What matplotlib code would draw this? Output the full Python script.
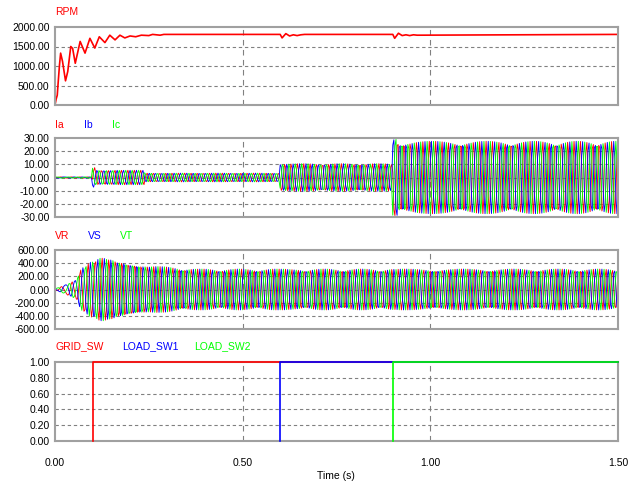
import numpy as np
import matplotlib
matplotlib.use('Agg')
import matplotlib.pyplot as plt
from matplotlib import font_manager

names = {f.name for f in font_manager.fontManager.ttflist}
font = 'Liberation Sans Narrow' if 'Liberation Sans Narrow' in names else 'Liberation Sans'
plt.rcParams['font.family'] = [font, 'DejaVu Sans']

# --- data ---
# rotor speed (key points of the trace)
rpm_t = [0.0, 0.003, 0.006, 0.009, 0.012, 0.015, 0.020, 0.028, 0.034, 0.042, 0.047, 0.054,
         0.067, 0.080, 0.093, 0.106, 0.118, 0.133, 0.146, 0.160, 0.173, 0.186, 0.20, 0.215,
         0.23, 0.25, 0.26, 0.28, 0.29, 0.32, 0.6, 0.605, 0.615, 0.625, 0.635, 0.645, 0.655,
         0.665, 0.9, 0.905, 0.915, 0.925, 0.935, 0.945, 0.955, 0.965, 1.5]
rpm_v = [0, 150, 250, 650, 1030, 1330, 1120, 620, 860, 1500, 1450, 1070,
         1630, 1330, 1710, 1460, 1750, 1600, 1790, 1670, 1790, 1720, 1770, 1750,
         1790, 1780, 1810, 1790, 1810, 1810, 1810, 1720, 1830, 1770, 1800, 1780, 1800,
         1810, 1810, 1710, 1840, 1780, 1800, 1780, 1800, 1790, 1810]

# phase currents: amplitude per segment
cur_seg_t = [0.0, 0.1, 0.106, 0.24, 0.6, 0.9, 0.912]
cur_seg_amp = [0.4, 7.5, 5.5, 3.3, 10.5, 31.0, 27.5]
cur_shift = 0.033      # where the moire diamonds sit (s, mod 0.1)

# phase voltages: amplitude key points
volt_t = [0.0, 0.02, 0.04, 0.058, 0.067, 0.093, 0.12, 0.15, 0.25, 0.38, 1.5]
volt_amp = [10, 50, 100, 150, 300, 410, 480, 460, 360, 310, 310]
volt_shift = 0.088

freq = 60.0            # Hz at final speed
sample_dt = 1 / 350.0  # print step of the simulation

# switch signals
sw_names = ['GRID_SW', 'LOAD_SW1', 'LOAD_SW2']
sw_on = [0.1, 0.6, 0.9]

RED, BLUE, GREEN = '#ff0000', '#0000ff', '#00ff00'
colors = [RED, BLUE, GREEN]
GRID = '#808080'

fig = plt.figure(figsize=(6.4, 4.84), dpi=100)
W, H = 640, 484


def make_ax(top, bottom):
    return fig.add_axes([55 / W, 1 - bottom / H, 563 / W, (bottom - top) / H])


def style(ax, ylim, yticks, fmt, hgrid, show_x=False):
    ax.set_xlim(0, 1.5)
    ax.set_ylim(*ylim)
    ax.set_yticks(yticks)
    ax.set_yticklabels([fmt.format(v) for v in yticks])
    ax.set_xticks([0, 0.5, 1.0, 1.5])
    if show_x:
        ax.set_xticklabels(['0.00', '0.50', '1.00', '1.50'])
    else:
        ax.set_xticklabels([])
    ax.tick_params(length=0, labelsize=7.5, pad=4)
    ax.tick_params(axis='x', pad=12)
    for s in ax.spines.values():
        s.set_color('#a0a0a0')
        s.set_linewidth(1.5)
    for v in hgrid:
        ax.axhline(v, color=GRID, lw=0.8, ls=(0, (3, 2.5)), zorder=0)
    for v in [0.5, 1.0]:
        ax.axvline(v, color=GRID, lw=0.8, ls=(0, (5, 4)), zorder=0)


# electrical angle follows the rotor speed
t = np.arange(0, 1.5 + sample_dt, sample_dt)
speed = np.interp(t, rpm_t, rpm_v) / rpm_v[-1]
angle = 2 * np.pi * freq * np.concatenate([[0], np.cumsum(speed[1:] * sample_dt)])


def three_phase(ax, env, shift):
    psi = -np.pi / 3 * shift / 0.1
    for k, c in enumerate(colors):
        y = env(t) * np.sin(angle + psi - 2 * np.pi * k / 3)
        ax.plot(t, y, color=c, lw=0.65, zorder=2)


# panel 1: RPM
ax1 = make_ax(27, 105)
ax1.plot(rpm_t, rpm_v, color=RED, lw=1.2, zorder=2)
style(ax1, (0, 2000), [0, 500, 1000, 1500, 2000], '{:.2f}', [500, 1000, 1500])

# panel 2: currents
ax2 = make_ax(138, 217)
cur_env = lambda x: np.array(cur_seg_amp)[np.searchsorted(cur_seg_t, x, side='right') - 1]
three_phase(ax2, cur_env, cur_shift)
style(ax2, (-30, 30), [-30, -20, -10, 0, 10, 20, 30], '{:.2f}', [-20, -10, 0, 10, 20])

# panel 3: voltages
ax3 = make_ax(250, 329)
volt_env = lambda x: np.interp(x, volt_t, volt_amp)
three_phase(ax3, volt_env, volt_shift)
style(ax3, (-600, 600), [-600, -400, -200, 0, 200, 400, 600], '{:.2f}', [-400, -200, 0, 200, 400])

# panel 4: switches
ax4 = make_ax(362, 441)
for name, ton, c in zip(sw_names, sw_on, colors):
    ax4.plot([ton, ton, 1.5], [0, 1, 1], color=c, lw=1.2, zorder=3, clip_on=False)
style(ax4, (0, 1), [0, 0.2, 0.4, 0.6, 0.8, 1.0], '{:.2f}', [0.2, 0.4, 0.6, 0.8], show_x=True)
fig.text(336 / W, 1 - 476 / H, 'Time (s)', ha='center', va='center', fontsize=7.5)

# panel labels
labels = [
    (['RPM'], [55], 12),
    (['Ia', 'Ib', 'Ic'], [55, 84, 112], 125),
    (['VR', 'VS', 'VT'], [55, 88, 120], 236),
    (sw_names, [55, 122, 194], 346),
]
for texts, xs, y in labels:
    for i, (s, x) in enumerate(zip(texts, xs)):
        fig.text(x / W, 1 - y / H, s, color=colors[i], fontsize=7.5, ha='left', va='center')

fig.savefig('out.png', dpi=100)
